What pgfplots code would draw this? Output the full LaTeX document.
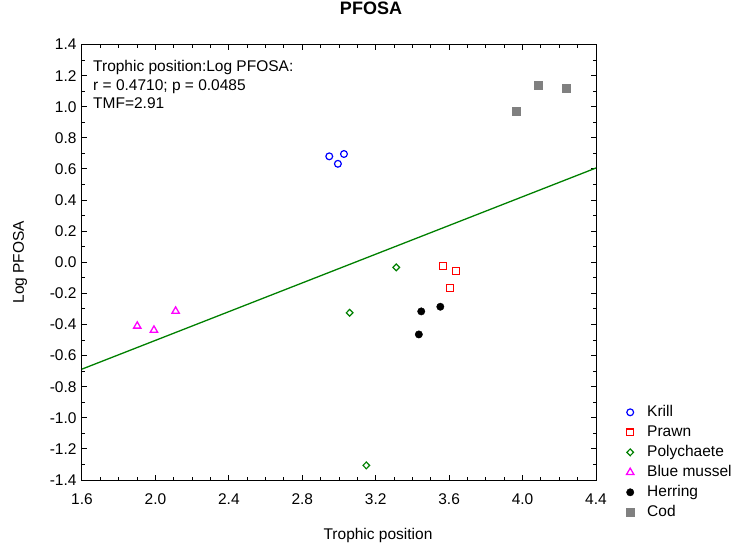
\documentclass[border=0pt]{standalone}
\usepackage{fontspec}
\setmainfont{Liberation Sans}
\usepackage{pgfplots}
\pgfplotsset{compat=1.18}
\definecolor{cgreen}{RGB}{0,128,0}
\definecolor{cgray}{RGB}{128,128,128}
\definecolor{cmag}{RGB}{255,0,255}
\definecolor{cblue}{RGB}{0,0,255}
\definecolor{cred}{RGB}{255,0,0}
\begin{document}
\begin{tikzpicture}[x=1pt,y=1pt]
\useasboundingbox (-82,-70) rectangle (652,480);
\begin{axis}[
  scale only axis, width=514pt, height=435.5pt,
  xmin=1.6, xmax=4.4, ymin=-1.4, ymax=1.4,
  xtick={1.6,2.0,2.4,2.8,3.2,3.6,4.0,4.4},
  ytick={-1.4,-1.2,-1.0,-0.8,-0.6,-0.4,-0.2,0.0,0.2,0.4,0.6,0.8,1.0,1.2,1.4},
  minor x tick num=3, minor y tick num=1,
  tick align=inside, major tick length=5pt, minor tick length=3pt,
  axis line style={line width=1pt}, every tick/.style={line width=1pt, black},
  /pgf/number format/assume math mode=true,
  /pgf/number format/fixed, /pgf/number format/fixed zerofill, /pgf/number format/precision=1,
  ticklabel style={font=\fontsize{15.5}{18}\selectfont},
  xticklabel style={yshift=-10pt},
  yticklabel style={xshift=-2pt},
  xlabel={Trophic position},
  xlabel style={at={(axis description cs:0.5,0)}, anchor=center, yshift=-55pt, xshift=39pt, font=\fontsize{15.5}{18}\selectfont},
  ylabel={Log PFOSA},
  ylabel style={at={(axis description cs:-0.1206,0.5)}, anchor=center, font=\fontsize{15.5}{18}\selectfont},
  title={PFOSA},
  title style={at={(axis description cs:0.5,1)}, anchor=center, yshift=30.5pt, xshift=32pt, font=\fontsize{18}{20}\selectfont\bfseries},
  legend style={draw=none, fill=none, at={(axis description cs:1,0)}, anchor=south west, xshift=29.5pt, yshift=-41pt,
    font=\fontsize{15.5}{18}\selectfont, row sep=3pt, inner sep=0pt,
    nodes={inner sep=1pt, text height=11.5pt, text depth=3.5pt}},
  legend cell align=left,
  legend image code/.code={\path[draw=none, fill=none] (0pt,-4pt) rectangle (20.5pt,4pt); \draw[#1] plot coordinates {(4.5pt,0pt)};},
]
\addplot[only marks, cblue, mark=o, mark size=3.4pt, line width=1.2pt] coordinates {(2.947,0.681) (2.994,0.633) (3.027,0.696)};
\addlegendentry{Krill}
\addplot[only marks, cred, mark=square, mark size=3.4pt, line width=1.2pt] coordinates {(3.566,-0.024) (3.637,-0.055) (3.604,-0.164)};
\addlegendentry{Prawn}
\addplot[only marks, cgreen, mark=diamond, mark size=3.4pt, line width=1.2pt, mark options={xscale=1.3}] coordinates {(3.312,-0.033) (3.058,-0.325) (3.149,-1.306)};
\addlegendentry{Polychaete}
\addplot[only marks, cmag, mark=triangle, mark size=4.2pt, line width=1.3pt] coordinates {(1.901,-0.410) (1.992,-0.436) (2.110,-0.314)};
\addlegendentry{Blue mussel}
\addplot[only marks, black, mark=*, mark size=3.7pt] coordinates {(3.448,-0.316) (3.552,-0.286) (3.435,-0.464)};
\addlegendentry{Herring}
\addplot[only marks, cgray, mark=square*, mark size=4pt, mark options={draw=cgray, fill=cgray}] coordinates {(3.964,0.972) (4.087,1.141) (4.236,1.116)};
\addlegendentry{Cod}
\addplot[cgreen, line width=1.3pt, forget plot] coordinates {(1.6,-0.687) (4.4,0.606)};
\node[anchor=north west, inner sep=0pt, align=left, font=\fontsize{15.5}{18.3}\selectfont] at (rel axis cs:0,1) [xshift=11pt, yshift=-16pt] {Trophic position:Log PFOSA:\\r = 0.4710; p = 0.0485\\TMF=2.91};
\end{axis}
\end{tikzpicture}
\end{document}
